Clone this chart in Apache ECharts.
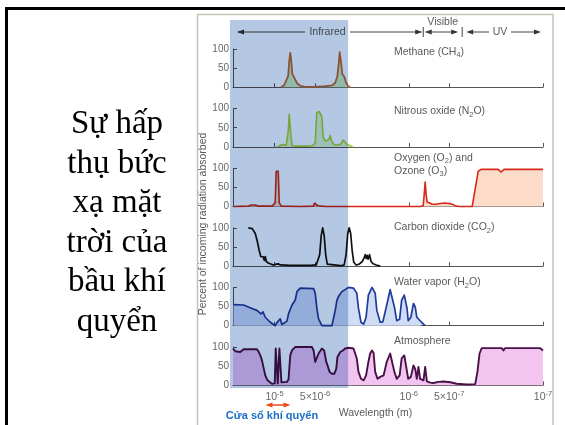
<!DOCTYPE html>
<html><head><meta charset="utf-8">
<script src="https://cdn.jsdelivr.net/npm/echarts@6/dist/echarts.min.js"></script>
<style>html,body{margin:0;padding:0;background:#fff}#c{width:565px;height:425px}</style>
</head><body><div id="c"></div>
<script>
// Wavelengths in micrometres, absorption in percent of incoming radiation
const methaneWl = [8.92,8.47,8.18,7.91,7.77,7.64,7.51,7.38,7.13,6.78,6.44,5.91,4.98,4.19,3.72,3.53,3.41,3.33,3.27,3.21,3.13,3.03,2.93,2.83,2.73];
const methaneVal = [0,6,18,30,70,90,70,35,25,10,4,1,1,3,5,12,28,60,92,70,35,28,12,3,1];

const n2oWl = [9.55,9.07,8.62,8.18,7.91,7.77,7.64,7.51,7.38,6.89,5.91,5.24,4.98,4.85,4.77,4.65,4.53,4.45,4.34,4.19,4.05,3.92,3.85,3.78,3.66,3.53,3.36,3.19,3.08,3.03,2.98,2.88,2.73,2.6];
const n2oVal = [0,4,6,5,40,85,80,20,3,2,2,3,10,90,95,92,95,80,25,15,12,20,30,18,8,5,5,8,18,20,14,6,3,0];

const ozoneWl = [20.3,15.7,14.91,14.41,13.92,13.23,10.41,9.89,9.72,9.39,9.23,8.92,6.44,5.15,5.06,4.89,4.73,4.19,2.73,0.823,0.781,0.768,0.755,0.742,0.730,0.705,0.693,0.670,0.625,0.584,0.536,0.492,0.467,0.444,0.414,0.337,0.326,0.315,0.304,0.289,0.248,0.216,0.205,0.195,0.148,0.115,0.1];
const ozoneVal = [0,1,4,7,4,1,1,10,92,92,10,1,0,1,8,8,2,0,0,0,2,30,64,30,12,10,8,6,6,8,9,7,5,1,0,0,5,60,92,97,97,97,90,97,97,97,97];

const co2Wl = [15.69,14.66,13.92,13.45,13.0,12.67,12.35,12.14,11.93,11.73,11.53,11.14,10.77,10.23,9.72,9.39,9.07,7.64,6.44,5.42,4.89,4.73,4.61,4.49,4.38,4.27,4.16,4.05,3.92,3.24,3.03,2.93,2.85,2.78,2.71,2.64,2.57,2.47,2.34,2.22,2.15,2.11,2.08,2.04,2.01,1.96,1.91,1.84,1.75,1.633];
const co2Val = [100,98,85,65,40,25,20,24,15,25,12,8,4,3,5,6,3,2,2,2,3,8,30,80,100,80,30,5,1,1,3,30,85,100,85,40,10,3,5,12,22,30,20,28,18,30,12,6,3,0];

const waterWl = [20.2,17.01,14.73,13.53,13.16,12.63,12.20,11.73,10.77,9.89,9.60,9.07,8.81,8.09,7.87,7.42,7.01,6.81,6.44,5.12,4.98,4.84,4.70,4.44,3.74,3.64,3.53,3.43,3.34,3.15,3.06,2.81,2.58,2.44,2.37,2.27,2.17,2.08,2.00,1.88,1.78,1.73,1.633,1.56,1.46,1.376,1.34,1.28,1.23,1.17,1.13,1.08,1.03,1.01,0.965,0.923,0.896,0.871,0.847,0.823,0.777,0.755];
const waterVal = [55,54,45,40,42,31,36,22,9,0,8,18,3,12,31,54,67,89,98,97,85,45,18,0,0,3,40,67,76,89,94,100,98,85,45,9,4,22,80,100,85,40,9,10,54,94,90,49,13,17,67,80,45,13,22,58,50,22,27,13,4,0];

const atmosWl = [20.4,19.61,18.0,17.01,13.53,13.16,12.63,12.41,12.08,11.73,11.28,10.46,9.97,9.80,9.63,9.47,9.31,9.20,9.02,8.89,8.09,7.87,7.64,7.42,7.01,5.27,5.12,4.98,4.84,4.70,4.44,4.27,4.12,4.03,3.89,3.74,3.59,3.47,3.40,3.24,3.10,2.98,2.81,2.58,2.44,2.37,2.27,2.17,2.08,2.00,1.94,1.88,1.83,1.78,1.71,1.633,1.54,1.46,1.376,1.34,1.28,1.23,1.17,1.13,1.08,1.03,1.01,0.965,0.923,0.896,0.871,0.847,0.823,0.777,0.755,0.733,0.693,0.655,0.601,0.552,0.492,0.439,0.369,0.320,0.308,0.297,0.286,0.203,0.197,0.192,0.105,0.1];
const atmosVal = [96,89,87,94,94,88,74,65,61,26,13,4,5,96,96,5,5,96,96,8,9,15,78,91,100,100,91,61,57,83,96,91,61,52,35,30,30,43,74,87,91,96,98,96,70,35,17,13,26,61,83,91,85,35,17,22,26,61,83,78,35,17,26,70,78,35,17,22,52,43,17,48,17,13,48,10,7,6,9,10,8,4,2,3,35,83,97,97,91,97,97,91];

// x-axis ticks (µm) and their labels (metres)
const tickValues = [10, 5, 1, 0.5, 0.1];
const tickMantissa = ['', '5×', '', '5×', ''];
const tickExponent = ['-5', '-6', '-6', '-7', '-7'];

const yTitle = 'Percent of incoming radiation absorbed';
const slideTitle = 'Sự hấp\nthụ bức\nxạ mặt\ntrời của\nbầu khí\nquyển';

const panels = [
  {wl: methaneWl, val: methaneVal, line: '#c4683a', area: '#cdeec0', w: 1.8},
  {wl: n2oWl, val: n2oVal, line: '#a6d43c', area: '#e0f4c8', w: 1.6},
  {wl: ozoneWl, val: ozoneVal, line: '#d8281c', area: '#fcdcc8', w: 1.6},
  {wl: co2Wl, val: co2Val, line: '#111111', area: null, w: 1.7},
  {wl: waterWl, val: waterVal, line: '#1e3c9a', area: '#d0dcf4', w: 1.7},
  {wl: atmosWl, val: atmosVal, line: '#4a1048', area: '#f2c4f0', w: 1.9}
];

const FONT = 'Liberation Sans';
const chart = echarts.init(document.getElementById('c'), null, {renderer: 'canvas'});
const gridLeft = 233, gridW = 310, top0 = 49, step = 59.6, gh = 38.3;

function tickIndex(v) {
  let best = 0, bd = Infinity;
  tickValues.forEach((t, k) => { const d = Math.abs(Math.log10(t) - Math.log10(v)); if (d < bd) { bd = d; best = k; } });
  return best;
}
const grids = [], xAxes = [], yAxes = [], series = [];
panels.forEach((p, i) => {
  grids.push({left: gridLeft, top: top0 + step * i, width: gridW, height: gh});
  xAxes.push({
    type: 'log', logBase: 10, gridIndex: i, min: 0.1, max: 20.4, inverse: true,
    axisLine: {show: true, onZero: false, lineStyle: {color: '#555', width: 1}},
    axisTick: {show: true, inside: true, length: 4, customValues: tickValues, lineStyle: {color: '#555'}},
    axisLabel: {
      show: i === panels.length - 1, customValues: tickValues, margin: 5,
      formatter: v => { const k = tickIndex(v); return '{b|' + tickMantissa[k] + '10}{p|' + tickExponent[k] + '}'; },
      rich: {
        b: {fontSize: 10.5, fontFamily: FONT, color: '#666', lineHeight: 14, verticalAlign: 'middle'},
        p: {fontSize: 7.5, fontFamily: FONT, color: '#666', lineHeight: 8, verticalAlign: 'top'}
      }
    },
    splitLine: {show: false}, minorTick: {show: false}
  });
  yAxes.push({
    type: 'value', gridIndex: i, min: 0, max: 100, interval: 50,
    axisLine: {show: true, lineStyle: {color: '#555', width: 1}},
    axisTick: {show: true, inside: true, length: 4, lineStyle: {color: '#555'}},
    axisLabel: {color: '#666', fontSize: 10, fontFamily: FONT, margin: 4},
    splitLine: {show: false}
  });
  const s = {
    type: 'line', xAxisIndex: i, yAxisIndex: i,
    data: p.wl.map((w, k) => [w, p.val[k]]),
    showSymbol: false, symbol: 'none', clip: false, z: 3,
    lineStyle: {color: p.line, width: p.w, join: 'round'}
  };
  if (p.area) s.areaStyle = {color: p.area, opacity: 1};
  series.push(s);
});

chart.setOption({animation: false, grid: grids, xAxis: xAxes, yAxis: yAxes, series: series});

const px = v => chart.convertToPixel({xAxisIndex: 0}, v);
const b1 = px(0.78), b2 = px(0.4), blueEdge = px(2.83);
const winL = px(11.7), winR = px(7.6);
const HY = 32;
const lineEl = (x1, y1, x2, y2, color, w) => ({type: 'line', z: 10, shape: {x1, y1, x2, y2}, style: {stroke: color || '#444', lineWidth: w || 1}});
const headL = (x, y, c, z) => ({type: 'polygon', z: z || 10, shape: {points: [[x, y], [x + 7, y - 2.5], [x + 7, y + 2.5]]}, style: {fill: c || '#333'}});
const headR = (x, y, c, z) => ({type: 'polygon', z: z || 10, shape: {points: [[x, y], [x - 7, y - 2.5], [x - 7, y + 2.5]]}, style: {fill: c || '#333'}});
const txt = (x, y, text, opts) => ({type: 'text', z: 10, x, y, style: Object.assign({text, fill: '#5a5a5a', font: '10.5px "' + FONT + '"', align: 'left', verticalAlign: 'middle'}, opts || {})});
const richSub = {
  a: {fontSize: 10.5, fontFamily: FONT, fill: '#5a5a5a', lineHeight: 14, verticalAlign: 'middle'},
  s: {fontSize: 7.5, fontFamily: FONT, fill: '#5a5a5a', lineHeight: 8, verticalAlign: 'bottom'}
};
const rtxt = (x, y, text) => ({type: 'text', z: 10, x, y, style: {text, rich: richSub, fill: '#5a5a5a', align: 'left', verticalAlign: 'middle'}});

const graphic = [
  // slide border & picture frame
  {type: 'rect', z: -5, shape: {x: 197.5, y: 14.5, width: 355.5, height: 430}, style: {fill: '#fff', stroke: '#c9c3b3', lineWidth: 1.5}},
  {type: 'rect', z: 20, shape: {x: 5, y: 7, width: 560, height: 3}, style: {fill: '#000'}},
  {type: 'rect', z: 20, shape: {x: 5, y: 7, width: 3, height: 418}, style: {fill: '#000'}},
  // slide title
  {type: 'text', z: 10, x: 117, y: 105, style: {text: slideTitle, fill: '#000', font: '33px "Liberation Serif"', align: 'center', verticalAlign: 'top', lineHeight: 39.5}},
  // y title
  {type: 'text', z: 10, x: 203, y: 224, rotation: Math.PI / 2, style: {text: yTitle, fill: '#5a5a5a', font: '10.5px "' + FONT + '"', align: 'center', verticalAlign: 'middle'}},
  // header: Infrared / Visible / UV
  lineEl(238, HY, 305, HY), headL(237, HY),
  txt(327.5, HY, 'Infrared', {align: 'center'}),
  lineEl(350, HY, b1 - 2, HY), headR(b1 - 1, HY),
  lineEl(b1, HY - 5, b1, HY + 5),
  txt((b1 + b2) / 2, 22, 'Visible', {align: 'center'}),
  headL(b1 + 1.5, HY), lineEl(b1 + 3, HY, b2 - 6, HY), headR(b2 - 4, HY),
  lineEl(b2, HY - 5, b2, HY + 5),
  headL(b2 + 4, HY), lineEl(b2 + 8, HY, 489, HY),
  txt(500, HY, 'UV', {align: 'center'}),
  lineEl(511, HY, 536, HY), headR(541, HY),
  // panel titles
  rtxt(394, 52, '{a|Methane (CH}{s|4}{a|)}'),
  rtxt(394, 111.5, '{a|Nitrous oxide (N}{s|2}{a|O)}'),
  rtxt(394, 158, '{a|Oxygen (O}{s|2}{a|) and}'),
  rtxt(394, 171, '{a|Ozone (O}{s|3}{a|)}'),
  rtxt(394, 227.5, '{a|Carbon dioxide (CO}{s|2}{a|)}'),
  rtxt(394, 282.5, '{a|Water vapor (H}{s|2}{a|O)}'),
  txt(394, 341.5, 'Atmosphere'),
  // bottom annotations
  txt(375.5, 413, 'Wavelength (m)', {align: 'center'}),
  txt(272, 416, 'Cửa sổ khí quyển', {align: 'center', fill: '#1a6fc4', font: 'bold 11px "' + FONT + '"'}),
  lineEl(winL + 4, 405, winR - 4, 405, '#e84a1c', 1.5), headL(winL, 405, '#e84a1c'), headR(winR, 405, '#e84a1c'),
  // highlighted band
  {type: 'rect', z: 50, shape: {x: 230, y: 20, width: blueEdge - 230, height: 368}, style: {fill: '#b4c8e4', blend: 'multiply'}}
];
chart.setOption({graphic: graphic});
</script>
</body></html>
